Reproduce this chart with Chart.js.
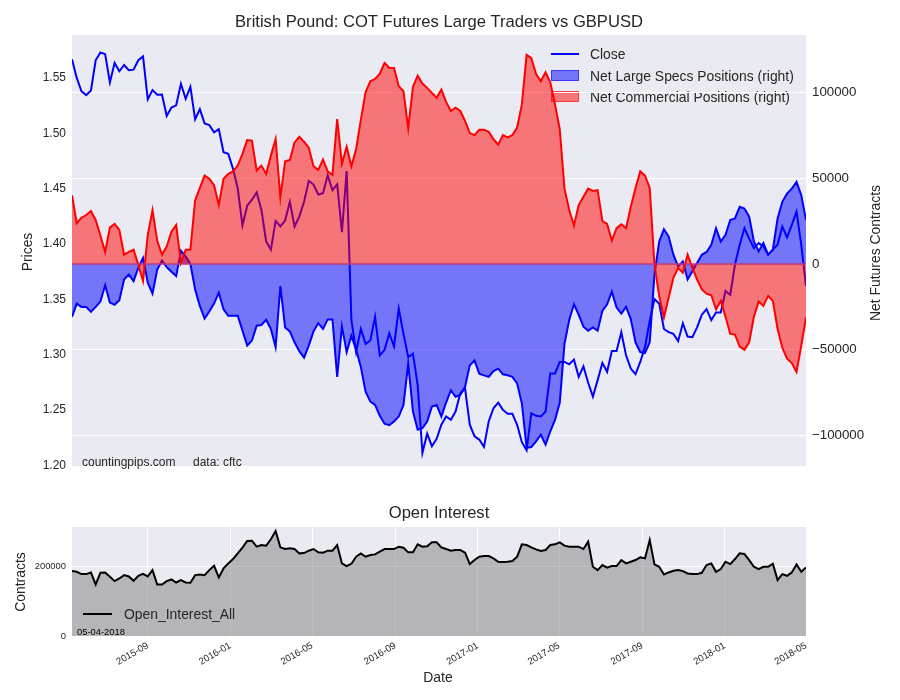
<!DOCTYPE html>
<html>
<head>
<meta charset="utf-8">
<script src="https://cdn.jsdelivr.net/npm/chart.js@4.4.1/dist/chart.umd.min.js"></script>
<style>
  html, body { margin: 0; padding: 0; background: #fff; }
  #wrap { position: relative; width: 900px; height: 700px; }
  canvas { position: absolute; left: 0; }
  #cot { top: 0; }
  #oi { top: 480px; }
</style>
</head>
<body>
<div id="wrap">
  <canvas id="cot" width="900" height="480"></canvas>
  <canvas id="oi" width="900" height="220"></canvas>
</div>
<script>
// weekly COT report dates (tuesdays), first one
const firstWeek = '2015-05-12';

// GBPUSD close
const closePrice = [
  1.5670, 1.5500, 1.5380, 1.5345, 1.5387, 1.5660, 1.5730, 1.5715, 1.5460, 1.5635,
  1.5560, 1.5617, 1.5570, 1.5575, 1.5660, 1.5694, 1.5306, 1.5390, 1.5348, 1.5351,
  1.5157, 1.5232, 1.5253, 1.5447, 1.5312, 1.5420, 1.5127, 1.5217, 1.5089, 1.5074,
  1.5008, 1.5038, 1.4829, 1.4814, 1.4680, 1.4501, 1.4167, 1.4346, 1.4400, 1.4465,
  1.4307, 1.4023, 1.3949, 1.4208, 1.4158, 1.4211, 1.4381, 1.4158, 1.4247, 1.4381,
  1.4569, 1.4537, 1.4447, 1.4459, 1.4620, 1.4486, 1.4540, 1.4107, 1.4659, 1.3313,
  1.3024, 1.3232, 1.3098, 1.3128, 1.3343, 1.2994, 1.3044, 1.3194, 1.3074, 1.3417,
  1.3188, 1.2979, 1.3009, 1.2725, 1.2113, 1.2286, 1.2173, 1.2239, 1.2367, 1.2442,
  1.2412, 1.2486, 1.2651, 1.2695, 1.2367, 1.2263, 1.2233, 1.2167, 1.2397, 1.2516,
  1.2567, 1.2501, 1.2466, 1.2466, 1.2367, 1.2209, 1.2137, 1.2471, 1.2448, 1.2442,
  1.2486, 1.2830, 1.2830, 1.2934, 1.2934, 1.2913, 1.2955, 1.2800, 1.2895, 1.2746,
  1.2621, 1.2770, 1.2925, 1.2845, 1.3033, 1.3033, 1.3203, 1.2994, 1.2874, 1.2824,
  1.2934, 1.3068, 1.3307, 1.3501, 1.3462, 1.3232, 1.3203, 1.3188, 1.3122, 1.3283,
  1.3164, 1.3158, 1.3247, 1.3361, 1.3412, 1.3313, 1.3382, 1.3382, 1.3576, 1.3540,
  1.3814, 1.3993, 1.4143, 1.4047, 1.3964, 1.4008, 1.3978, 1.3904, 1.3949, 1.3993,
  1.4158, 1.4059, 1.4172, 1.4292, 1.3993, 1.3620
];

// net large speculator positions
const largeSpecs = [
  -30900, -23200, -25100, -25100, -28000, -25100, -22000, -12400, -22600, -23900,
  -21200, -9100, -6200, -10000, -2300, 3500, -11000, -17400, -3300, 1900,
  -1900, -4600, -7100, 7700, 4400, 0, -14900, -24500, -31900, -27800,
  -23200, -16800, -26500, -30300, -30300, -30300, -39000, -47700, -44800, -36100,
  -35700, -32600, -38000, -48700, -12900, -37100, -39400, -45800, -51000, -54800,
  -47700, -39400, -34600, -38000, -32400, -32400, -66000, -36500, -51500, -41900,
  -50200, -60200, -74700, -80500, -82400, -88800, -93400, -94200, -92100, -89200,
  -82400, -58300, -86300, -96900, -96000, -92100, -83400, -82400, -89200, -81000,
  -73800, -77600, -76600, -71800, -59300, -56400, -64100, -65100, -66000, -62600,
  -61200, -64500, -65100, -66000, -69900, -81500, -107500, -107000, -103700, -99800,
  -105600, -97900, -91100, -81100, -46700, -32800, -23600, -29700, -36700, -39000,
  -37100, -39000, -27400, -23600, -16200, -25500, -29000, -25100, -32200, -45800,
  -51500, -52100, -45800, -6200, 13100, 20300, 16000, 5400, -1400, 1500,
  -9100, -4300, 600, 5400, 7000, 11200, 20900, 13100, 17000, 25700,
  26600, 33400, 32400, 27600, 13100, 7300, 12200, 5400, 8300, 26600,
  36300, 41100, 44000, 47900, 40200, 25700
];

// net commercial positions
const commercials = [
  40200, 23800, 27000, 28600, 30900, 25700, 16600, 7000, 21200, 23400,
  19900, 5400, 7000, 8300, -400, -10000, 17000, 31500, 13500, 5400,
  10200, 18900, 22800, 600, 8300, 8300, 37300, 44400, 51700, 49800,
  46000, 34400, 49800, 52700, 54100, 57500, 64300, 72400, 72000, 54600,
  57500, 52700, 63300, 73000, 38800, 60000, 60800, 71000, 74300, 71400,
  68000, 57100, 55000, 61000, 54100, 52100, 84600, 58500, 68500, 57100,
  67200, 84200, 100400, 106800, 108100, 111200, 117400, 114700, 114500, 103900,
  101000, 79200, 103500, 110000, 105400, 102900, 100000, 97100, 101900, 94700,
  89400, 91300, 89400, 83600, 76500, 75300, 78400, 78400, 77200, 73000,
  69700, 75300, 73900, 75300, 79700, 93200, 122200, 120300, 111000, 106800,
  112000, 106200, 93200, 78800, 44000, 31500, 22400, 34400, 39200, 44000,
  42700, 43100, 25100, 23400, 13700, 20900, 23200, 20900, 33400, 44400,
  54100, 51700, 44400, -400, -18700, -31300, -19700, -8100, -2300, -5200,
  5400, -2300, -9100, -14900, -17400, -18300, -26500, -21600, -30900, -40900,
  -41300, -48300, -50200, -45800, -30900, -22000, -24500, -18700, -21600, -38000,
  -49000, -55400, -57900, -63100, -47700, -31300
];

// open interest, all
const openInterest = [
  186500, 184600, 177900, 177900, 182700, 148100, 181700, 182700, 170200, 157700,
  165400, 175000, 171200, 158700, 173100, 178800, 171200, 189400, 148100, 148100,
  157700, 162500, 153800, 160600, 153800, 152900, 175000, 176900, 175000, 189400,
  201900, 168300, 194200, 208700, 221200, 237500, 253800, 273100, 274000, 256700,
  261500, 259600, 277900, 301900, 254800, 250000, 251900, 250000, 237500, 238500,
  245200, 250000, 240400, 239400, 245200, 245200, 261500, 208700, 201000, 207700,
  227900, 237500, 227900, 232700, 234600, 242300, 250000, 250000, 250000, 256700,
  253800, 240400, 240400, 263500, 256700, 257700, 269200, 269200, 254800, 250000,
  245200, 247100, 247100, 239400, 206700, 218300, 227900, 229800, 229800, 223100,
  213500, 212500, 213500, 215400, 227900, 263500, 261500, 254800, 249000, 244200,
  247100, 261500, 263500, 269200, 259600, 256700, 256700, 256700, 250000, 271100,
  199000, 189400, 203800, 196200, 201000, 201000, 218300, 208700, 213500, 218300,
  226000, 223100, 276000, 205800, 199000, 176900, 182700, 187500, 189400, 186500,
  179800, 177900, 177900, 181700, 203800, 208700, 184600, 192300, 213500, 206700,
  221200, 237500, 235600, 218300, 199000, 192300, 199000, 199000, 207700, 160600,
  177900, 173100, 182700, 205800, 184600, 197100
];

const priceTicks = [1.20, 1.25, 1.30, 1.35, 1.40, 1.45, 1.50, 1.55];
const netTicks = [-100000, -50000, 0, 50000, 100000];
const oiTicks = [0, 200000];
const monthTicks = ['2015-09', '2016-01', '2016-05', '2016-09', '2017-01', '2017-05', '2017-09', '2018-01', '2018-05'];

const FONT = "'Liberation Sans', Arial, sans-serif";
const TXT = '#262626';
const BG = '#eaeaf2';
const DAY = 86400000;

const t0 = Date.parse(firstWeek);
const weeks = closePrice.map((_, i) => t0 + i * 7 * DAY);
const monthValues = monthTicks.map(m => Date.parse(m + '-01'));
const pts = arr => arr.map((v, i) => ({ x: weeks[i], y: v }));

function fmtNet(v) {
    return v < 0 ? '\u2212' + Math.abs(v) : String(v);
}

function vText(ctx, text, x, y) {
    ctx.save();
    ctx.translate(x, y);
    ctx.rotate(-Math.PI / 2);
    ctx.textAlign = 'center';
    ctx.textBaseline = 'middle';
    ctx.fillText(text, 0, 0);
    ctx.restore();
}

// fond gris de la zone du graphique + légende (sous la grille)
const plotBg = {
    id: 'plotBg',
    beforeDraw(chart) {
        const { ctx, chartArea: a } = chart;
        ctx.save();
        ctx.fillStyle = BG;
        ctx.fillRect(a.left, a.top, a.right - a.left, a.bottom - a.top);
        ctx.restore();
        if (chart.canvas.id === 'cot') {
            ctx.save();
            ctx.fillStyle = TXT;
            ctx.font = '12px ' + FONT;
            ctx.fillText('countingpips.com', 82, 466);
            ctx.fillText('data: cftc', 193, 466);

            ctx.font = '13.9px ' + FONT;
            ctx.strokeStyle = '#0000ff';
            ctx.lineWidth = 2;
            ctx.beginPath();
            ctx.moveTo(551, 54);
            ctx.lineTo(579, 54);
            ctx.stroke();
            ctx.fillText('Close', 590, 59);

            ctx.lineWidth = 1;
            ctx.fillStyle = 'rgba(0,0,255,0.5)';
            ctx.strokeStyle = 'rgba(0,0,255,0.5)';
            ctx.fillRect(551, 70, 28, 11);
            ctx.strokeRect(551.5, 70.5, 27, 10);
            ctx.fillStyle = 'rgba(255,0,0,0.5)';
            ctx.strokeStyle = 'rgba(255,0,0,0.5)';
            ctx.fillRect(551, 91, 28, 11);
            ctx.strokeRect(551.5, 91.5, 27, 10);

            ctx.fillStyle = TXT;
            ctx.fillText('Net Large Specs Positions (right)', 590, 80.5);
            ctx.fillText('Net Commercial Positions (right)', 590, 101.5);
            ctx.restore();
        }
    }
};

const cotText = {
    id: 'cotText',
    afterDatasetsDraw(chart) {
        const ctx = chart.ctx;
        const a = chart.chartArea;
        const y0 = chart.scales.yNet.getPixelForValue(0);
        ctx.save();
        ctx.strokeStyle = 'rgb(186,58,124)';
        ctx.lineWidth = 1.5;
        ctx.beginPath();
        ctx.moveTo(a.left, y0);
        ctx.lineTo(a.right, y0);
        ctx.stroke();
        ctx.restore();
    },
    afterDraw(chart) {
        const ctx = chart.ctx;
        ctx.save();
        ctx.fillStyle = TXT;
        ctx.font = '16.6px ' + FONT;
        ctx.textAlign = 'center';
        ctx.fillText('British Pound: COT Futures Large Traders vs GBPUSD', 439, 27);
        ctx.font = '13.9px ' + FONT;
        vText(ctx, 'Prices', 28, 252);
        vText(ctx, 'Net Futures Contracts', 876, 253);
        ctx.restore();
    }
};

const oiText = {
    id: 'oiText',
    afterDatasetsDraw(chart) {
        const ctx = chart.ctx;
        ctx.save();
        ctx.strokeStyle = '#000';
        ctx.lineWidth = 2;
        ctx.beginPath();
        ctx.moveTo(83, 134);
        ctx.lineTo(112, 134);
        ctx.stroke();
        ctx.fillStyle = TXT;
        ctx.font = '13.9px ' + FONT;
        ctx.fillText('Open_Interest_All', 124, 139);
        ctx.fillStyle = '#000';
        ctx.font = '9.4px ' + FONT;
        ctx.fillText('05-04-2018', 77, 154.5);
        ctx.restore();
    },
    afterDraw(chart) {
        const ctx = chart.ctx;
        ctx.save();
        ctx.fillStyle = TXT;
        ctx.textAlign = 'center';
        ctx.font = '16.6px ' + FONT;
        ctx.fillText('Open Interest', 439, 38);
        ctx.font = '13.9px ' + FONT;
        ctx.fillText('Date', 438, 202);
        vText(ctx, 'Contracts', 21, 102);
        ctx.restore();
    }
};

const common = {
    responsive: false,
    animation: false,
    devicePixelRatio: 1,
    elements: { point: { radius: 0 }, line: { tension: 0 } },
    plugins: {
        legend: { display: false },
        title: { display: false },
        tooltip: { enabled: false }
    }
};

// graphique du haut : cours + positions COT
new Chart(document.getElementById('cot'), {
    type: 'line',
    data: {
        datasets: [
            {
                label: 'Net Commercial Positions (right)',
                data: pts(commercials),
                yAxisID: 'yNet',
                borderColor: '#ff0000',
                backgroundColor: 'rgba(255,0,0,0.5)',
                borderWidth: 2,
                fill: 'origin'
            },
            {
                label: 'Net Large Specs Positions (right)',
                data: pts(largeSpecs),
                yAxisID: 'yNet',
                borderColor: '#0000ff',
                backgroundColor: 'rgba(0,0,255,0.5)',
                borderWidth: 2,
                fill: 'origin'
            },
            {
                label: 'Close',
                data: pts(closePrice),
                yAxisID: 'yPrice',
                borderColor: '#0000ff',
                borderWidth: 2,
                fill: false
            }
        ]
    },
    options: {
        ...common,
        layout: { padding: { top: 35, bottom: 10, left: 0, right: 0 } },
        scales: {
            x: { type: 'linear', display: false, min: weeks[0], max: weeks[weeks.length - 1] },
            yPrice: {
                position: 'left',
                min: 1.1994,
                max: 1.5888,
                grid: { display: false, drawTicks: false },
                border: { display: false },
                afterFit: s => { s.width = 72; },
                afterBuildTicks: s => { s.ticks = priceTicks.map(v => ({ value: v })); },
                ticks: { font: { family: FONT, size: 12 }, color: TXT, padding: 6, callback: v => v.toFixed(2) }
            },
            yNet: {
                position: 'right',
                min: -118100,
                max: 133800,
                grid: { color: '#ffffff', lineWidth: 1, drawTicks: false },
                border: { display: false },
                afterFit: s => { s.width = 94; },
                afterBuildTicks: s => { s.ticks = netTicks.map(v => ({ value: v })); },
                ticks: { font: { family: FONT, size: 13.3 }, color: TXT, padding: 6, callback: fmtNet }
            }
        }
    },
    plugins: [plotBg, cotText]
});

// graphique du bas : open interest
new Chart(document.getElementById('oi'), {
    type: 'line',
    data: {
        datasets: [{
            label: 'Open_Interest_All',
            data: pts(openInterest),
            borderColor: '#000000',
            borderWidth: 2,
            backgroundColor: 'rgba(128,128,128,0.5)',
            fill: 'origin'
        }]
    },
    options: {
        ...common,
        layout: { padding: { top: 47, bottom: 0, left: 0, right: 94 } },
        scales: {
            x: {
                type: 'linear',
                min: weeks[0],
                max: weeks[weeks.length - 1],
                grid: { color: '#ffffff', drawTicks: false },
                border: { display: false },
                afterFit: s => { s.height = 64; },
                afterBuildTicks: s => { s.ticks = monthValues.map(v => ({ value: v })); },
                ticks: {
                    autoSkip: false,
                    minRotation: 30,
                    maxRotation: 30,
                    padding: 4,
                    font: { family: FONT, size: 9.6 },
                    color: TXT,
                    callback: (v, i) => monthTicks[i]
                }
            },
            y: {
                min: 0,
                max: 313300,
                grid: { color: '#ffffff', drawTicks: false },
                border: { display: false },
                afterFit: s => { s.width = 72; },
                afterBuildTicks: s => { s.ticks = oiTicks.map(v => ({ value: v })); },
                ticks: { font: { family: FONT, size: 9.4 }, color: TXT, padding: 6, callback: v => String(v) }
            }
        }
    },
    plugins: [plotBg, oiText]
});
</script>
</body>
</html>
